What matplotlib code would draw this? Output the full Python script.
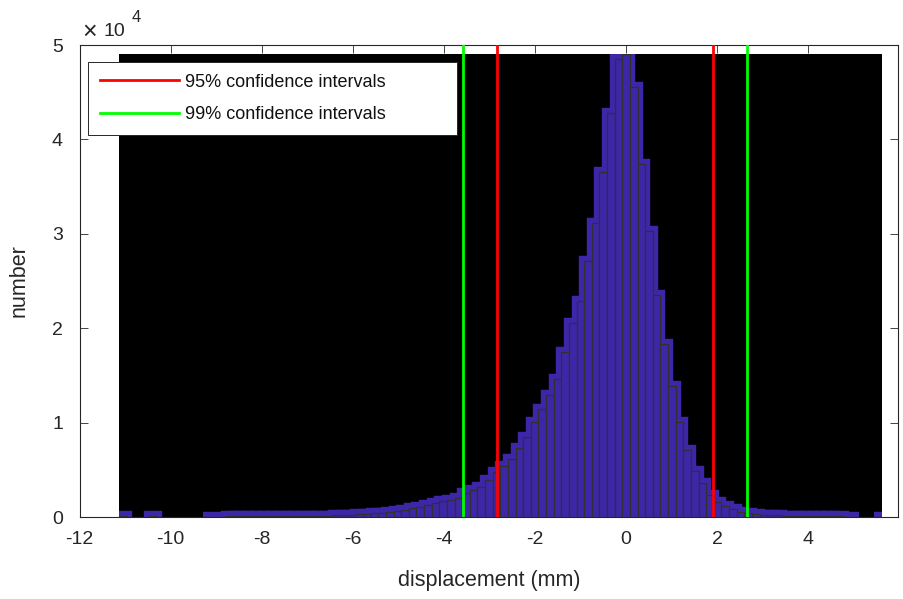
import numpy as np
import matplotlib
matplotlib.use("Agg")
import matplotlib.pyplot as plt
from matplotlib.patches import Rectangle

plt.rcParams["font.family"] = ["Liberation Sans", "DejaVu Sans"]
plt.rcParams["axes.unicode_minus"] = False

# histogram of displacement, 100 bins
bin_lo = -11.136
bin_hi = 5.611
n_bins = 100
counts = [
    80, 0, 0, 0, 60, 0, 0, 0, 0, 0, 0,
    40, 45, 50, 55, 60, 65, 70, 75, 80, 85, 90, 95, 100, 110, 120, 130, 140,
    170, 200, 250, 300, 360, 420, 470, 520, 650, 780, 980, 1090,
    1310, 1450, 1690, 1840, 2010, 2540, 2860, 3210, 3920, 4730,
    5400, 6110, 7280, 8440, 10090, 11410, 12920, 14580, 17530, 20580,
    22930, 27110, 31110, 36580, 42830, 48480, 49050, 45520, 37360, 30330,
    23550, 18290, 13910, 10030, 7100, 4870, 3570, 2330, 1620, 1200,
    815, 560, 390, 285, 240, 200, 170, 150, 130, 115,
    100, 90, 80, 70, 60, 50, 40, 0, 0, 30,
]
ci95 = [-2.844, 1.903]
ci99 = [-3.59, 2.659]

blue = "#3e26a8"
dark = "#262626"

edges = np.linspace(bin_lo, bin_hi, n_bins + 1)
counts = np.array(counts, dtype=float)
width = edges[1] - edges[0]
keep = counts > 0
lefts = edges[:-1][keep]
heights = counts[keep]

fig = plt.figure(figsize=(9.04, 5.99), dpi=100)
ax = fig.add_axes([79.6 / 904, 82 / 599, 818.4 / 904, 472 / 599])
ax.set_axisbelow(True)

bg = Rectangle((bin_lo, 0), bin_hi - bin_lo, counts.max(), facecolor="black",
               edgecolor="none", zorder=1)
ax.add_patch(bg)

# thick blue outline underneath, then the bars with thin dark edges
thick = ax.bar(lefts, heights, width=width, align="edge", color=blue,
               edgecolor=blue, linewidth=7.5, zorder=2)
for b in thick:
    b.set_clip_path(bg)
    b.set_joinstyle("miter")
thin = ax.bar(lefts, heights, width=width, align="edge", color=blue,
              edgecolor="#303030", linewidth=0.9, zorder=3)
for b in thin:
    b.set_clip_path(bg)

for i, x in enumerate(ci95):
    ax.axvline(x, color="#ff0000", lw=2.0, zorder=4,
               label="95% confidence intervals" if i == 0 else None)
for i, x in enumerate(ci99):
    ax.axvline(x, color="#00ff00", lw=2.0, zorder=4,
               label="99% confidence intervals" if i == 0 else None)

ax.set_xlim(-12, 5.97)
ax.set_ylim(0, 5e4)
ax.set_xticks(np.arange(-12, 5, 2))
ax.set_yticks(np.arange(0, 50001, 10000))
ax.set_yticklabels([str(v) for v in range(6)])
ax.tick_params(direction="in", length=6, width=0.6, color=dark,
               labelcolor=dark, labelsize=14, top=True, right=True)
ax.tick_params(axis="x", pad=10)
ax.tick_params(axis="y", pad=12)
for s in ax.spines.values():
    s.set_color(dark)
    s.set_linewidth(0.8)

ax.set_xlabel("displacement (mm)", fontsize=15.5, color=dark, labelpad=16)
ax.set_ylabel("number", fontsize=15.5, color=dark, labelpad=16)

fig.text(90 / 904, 1 - 32 / 599, "\u00d7", fontsize=18, color=dark,
         ha="center", va="center")
fig.text(114 / 904, 1 - 31 / 599, "10", fontsize=14, color=dark,
         ha="center", va="center")
fig.text(136 / 904, 1 - 17 / 599, "4", fontsize=12, color=dark,
         ha="center", va="center")

leg = ax.legend(loc="upper left", bbox_to_anchor=(0.0103, 0.8136, 0.4507, 0.1504),
                mode="expand", borderaxespad=0, fontsize=13, handlelength=4.4,
                handletextpad=0.3, labelspacing=0.85, borderpad=0.65,
                fancybox=False, framealpha=1, edgecolor=dark)
leg.get_frame().set_linewidth(0.7)
leg.set_zorder(10)
for t in leg.get_texts():
    t.set_color("#111111")

fig.savefig("out.png", dpi=100)
